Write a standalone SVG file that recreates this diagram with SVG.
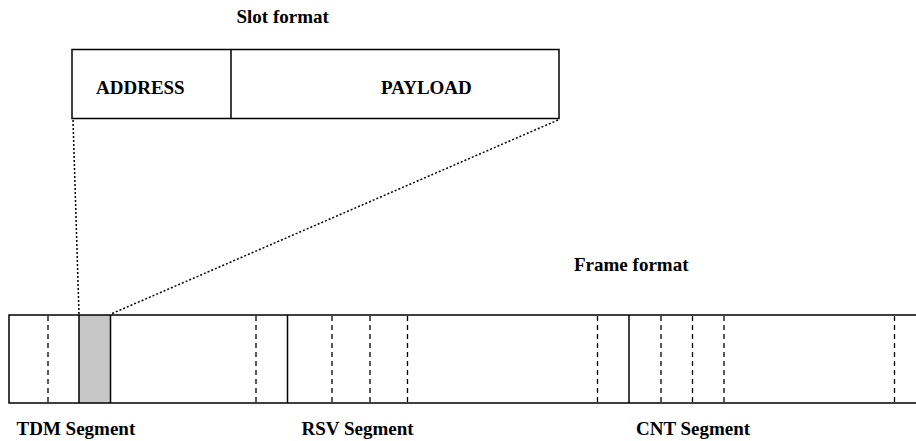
<svg xmlns="http://www.w3.org/2000/svg" width="916" height="441" viewBox="0 0 916 441">
  <style>
    .lbl { font-family: "Liberation Serif", "Times New Roman", serif; font-weight: bold; font-size: 19px; fill: #000; }
    .solid { fill: none; stroke: #000; stroke-width: 1.5; }
    .dash { stroke: #000; stroke-width: 1.3; stroke-dasharray: 5 4; }
    .dot { stroke: #000; stroke-width: 1.5; stroke-dasharray: 2 2; fill: none; }
  </style>
  <rect width="916" height="441" fill="#fff"/>

  <!-- slot format box -->
  <g id="slot">
    <text class="lbl" x="236.5" y="23">Slot format</text>
    <rect class="solid" x="72" y="49.5" width="487" height="69"/>
    <line class="solid" x1="231" y1="49.5" x2="231" y2="118.5"/>
    <text class="lbl" x="96" y="94">ADDRESS</text>
    <text class="lbl" x="381" y="94">PAYLOAD</text>
  </g>

  <!-- frame format strip -->
  <g id="frame">
    <text class="lbl" x="574" y="271">Frame format</text>
    <rect x="79" y="315" width="31.5" height="88" fill="#c6c6c6"/>
    <path class="solid" d="M918,315 H9 V403 H918"/>
    <line class="solid" x1="79" y1="315" x2="79" y2="403"/>
    <line class="solid" x1="110.5" y1="315" x2="110.5" y2="403"/>
    <line class="solid" x1="287.5" y1="315" x2="287.5" y2="403"/>
    <line class="solid" x1="629" y1="315" x2="629" y2="403"/>
    <g class="dash">
      <line x1="48" y1="316" x2="48" y2="403"/>
      <line x1="256" y1="316" x2="256" y2="403"/>
      <line x1="332" y1="316" x2="332" y2="403"/>
      <line x1="370" y1="316" x2="370" y2="403"/>
      <line x1="407.5" y1="316" x2="407.5" y2="403"/>
      <line x1="597.5" y1="316" x2="597.5" y2="403"/>
      <line x1="661" y1="316" x2="661" y2="403"/>
      <line x1="692.5" y1="316" x2="692.5" y2="403"/>
      <line x1="724" y1="316" x2="724" y2="403"/>
      <line x1="894.5" y1="316" x2="894.5" y2="403"/>
    </g>
    <text class="lbl" x="16.5" y="435">TDM Segment</text>
    <text class="lbl" x="301.5" y="435">RSV Segment</text>
    <text class="lbl" x="636" y="435">CNT Segment</text>
  </g>

  <!-- zoom-out projection lines from slot to frame -->
  <g id="connectors">
    <line class="dot" x1="73" y1="120" x2="79" y2="314"/>
    <line class="dot" x1="558" y1="120" x2="111" y2="314"/>
  </g>
</svg>
